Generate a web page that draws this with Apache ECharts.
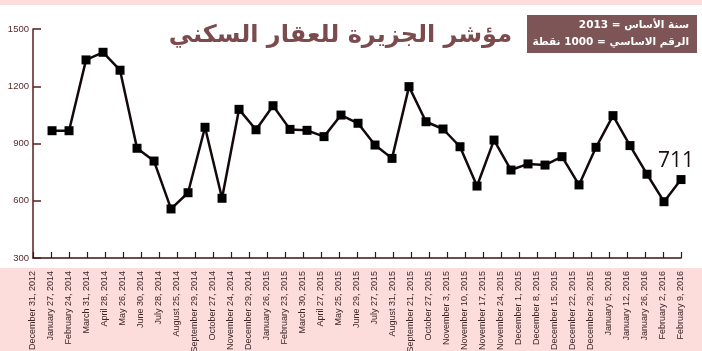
<!DOCTYPE html>
<html>
<head>
<meta charset="utf-8">
<script src="https://cdn.jsdelivr.net/npm/echarts@6/dist/echarts.min.js"></script>
<style>
  html, body { margin: 0; padding: 0; background: #fff; }
  #chart { width: 702px; height: 351px; }
</style>
</head>
<body>
<div id="chart"></div>
<script>
// x labels as printed under the axis
const dateLabels = [
  "December 31, 2012", "January 27, 2014", "February 24, 2014", "March 31, 2014",
  "April 28, 2014", "May 26, 2014", "June 30, 2014", "July 28, 2014",
  "August 25, 2014", "September 29, 2014", "October 27, 2014", "November 24, 2014",
  "December 29, 2014", "January 26, 2015", "February 23, 2015", "March 30, 2015",
  "April 27, 2015", "May 25, 2015", "June 29, 2015", "July 27, 2015",
  "August 31, 2015", "September 21, 2015", "October 27, 2015", "November 3, 2015",
  "November 10, 2015", "November 17, 2015", "November 24, 2015", "December 1, 2015",
  "December 8, 2015", "December 15, 2015", "December 22, 2015", "December 29, 2015",
  "January 5, 2016", "January 12, 2016", "January 26, 2016", "February 2, 2016",
  "February 9, 2016"
];

// index values (38 markers)
const indexValues = [
  967, 967, 1338, 1378, 1284, 875, 808, 557, 642, 985,
  613, 1079, 972, 1098, 974, 969, 936, 1049, 1006, 892,
  822, 1198, 1014, 976, 883, 677, 918, 761, 793, 787,
  831, 683, 880, 1046, 889, 739, 595, 711
];

const yTicks = [300, 600, 900, 1200, 1500];
const titleText = "مؤشر الجزيرة للعقار السكني";
const noteLines = ["سنة الأساس = 2013", "الرقم الاساسي = 1000 نقطة"];

const chart = echarts.init(document.getElementById("chart"));

const points = indexValues.map((v, i) => [i, v]);
const lastIdx = points.length - 1;
const axisColor = "#3a1414";

const option = {
  animation: false,
  backgroundColor: "#ffffff",
  grid: { left: 33, right: 21, top: 29, bottom: 93, containLabel: false, outerBoundsMode: "none" },
  graphic: [
    { type: "rect", z: -10, silent: true, shape: { x: 0, y: 0, width: 702, height: 5 }, style: { fill: "#fcdcdc" } },
    { type: "rect", z: -10, silent: true, shape: { x: 0, y: 268, width: 702, height: 83 }, style: { fill: "#fddcdc" } },
    {
      type: "text", x: 512, y: 24,
      style: { text: titleText, fill: "#7b4b4d", font: "bold 24px 'DejaVu Sans'", textAlign: "right" }
    },
    { type: "rect", shape: { x: 527, y: 15, width: 170, height: 38 }, style: { fill: "#7e5557" } },
    {
      type: "text", x: 689, y: 20,
      style: { text: noteLines[0], fill: "#ffffff", font: "bold 10.5px 'DejaVu Sans'", textAlign: "right" }
    },
    {
      type: "text", x: 689, y: 37,
      style: { text: noteLines[1], fill: "#ffffff", font: "bold 10.5px 'DejaVu Sans'", textAlign: "right" }
    }
  ],
  xAxis: [
    // positions the markers
    { type: "value", min: -1.12, max: 37, show: false },
    // date labels, base line and tick marks
    {
      type: "category", data: dateLabels, boundaryGap: false, position: "bottom",
      axisLine: { show: true, onZero: false, lineStyle: { color: axisColor, width: 1.5 } },
      axisTick: { show: true, inside: true, interval: 0, length: 6, lineStyle: { color: axisColor, width: 1.2 } },
      axisLabel: {
        interval: 0, rotate: 90, margin: 13,
        fontSize: 9, fontFamily: "Liberation Sans", color: "#3a2424"
      }
    }
  ],
  yAxis: {
    type: "value", min: 300, max: 1500, interval: 300,
    axisLine: { show: true, onZero: false, lineStyle: { color: "#5a1e1e", width: 1.5 } },
    axisTick: { show: true, inside: true, length: 8, lineStyle: { color: "#5a1e1e", width: 1.5 } },
    axisLabel: {
      margin: 4, fontSize: 9.5, fontFamily: "Liberation Sans", color: "#5a2a2a",
      formatter: (v) => String(v),
      customValues: yTicks
    },
    splitLine: { show: false }
  },
  series: [{
    type: "line",
    xAxisIndex: 0,
    data: points,
    symbol: "rect",
    symbolSize: 9,
    lineStyle: { color: "#140808", width: 2.5 },
    itemStyle: { color: "#000000" },
    label: {
      show: true,
      formatter: (p) => (p.dataIndex === lastIdx ? String(p.value[1]) : ""),
      position: "top", offset: [-5, 1],
      fontSize: 21, fontFamily: "Open Sans", color: "#1a1010"
    }
  }]
};

chart.setOption(option);
</script>
</body>
</html>
